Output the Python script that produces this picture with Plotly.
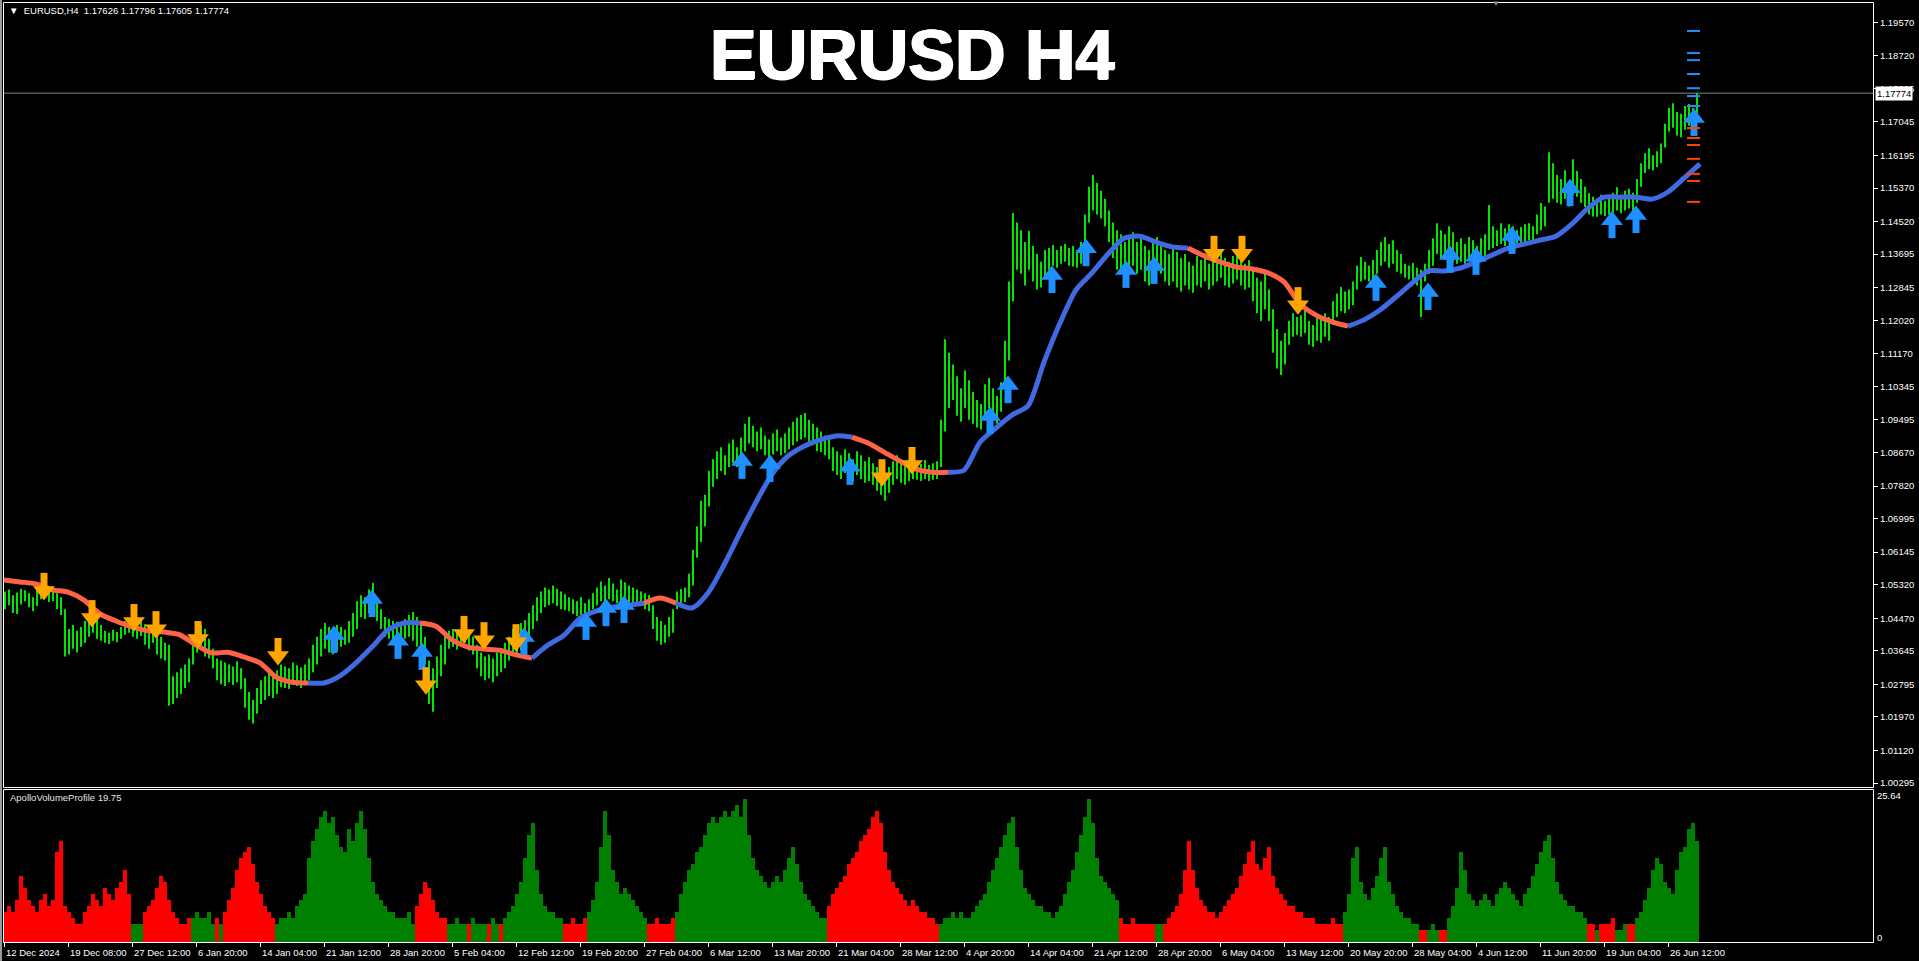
import plotly.graph_objects as go

W, H = 1919, 961

# ---------------- DATA ----------------
# price bars (each entry = 2 consecutive H4 bars): highs / lows
bar_hi = [
1.0515,1.0520,1.0505,1.0512,1.0522,1.0518,1.0510,1.0500,1.0520,1.0528,1.0531,1.0515,1.0522,1.0510,1.0500,
1.0470,1.0420,1.0430,1.0415,1.0425,1.0440,
1.0450,1.0462,1.0445,1.0430,
1.0415,1.0410,1.0418,1.0412,1.0425,
1.0440,1.0445,1.0438,1.0430,1.0440,
1.0432,1.0420,1.0430,1.0415,1.0400,1.0385,
1.0380,1.0300,1.0310,1.0320,1.0330,1.0345,
1.0400,1.0437,1.0430,1.0420,
1.0395,1.0370,
1.0345,1.0340,1.0335,1.0330,1.0325,1.0338,1.0320,
1.0295,1.0260,1.0240,
1.0270,1.0290,1.0300,1.0310,1.0305,1.0315,
1.0330,1.0325,1.0320,1.0335,1.0328,1.0322,1.0330,1.0345,
1.0380,1.0400,1.0420,1.0435,1.0425,1.0415,1.0430,
1.0425,1.0418,1.0440,1.0460,
1.0490,1.0505,1.0500,1.0520,1.0536,1.0500,
1.0470,1.0450,1.0445,1.0440,1.0438,1.0432,1.0445,1.0455,
1.0463,1.0450,1.0430,1.0400,
1.0340,1.0320,
1.0350,1.0380,1.0410,
1.0415,1.0420,1.0410,1.0418,1.0425,1.0410,1.0400,
1.0380,1.0360,1.0350,1.0355,1.0345,1.0360,1.0370,1.0385,
1.0400,1.0420,1.0410,1.0435,1.0442,1.0460,
1.0480,1.0500,1.0515,1.0525,1.0520,1.0530,1.0522,1.0515,1.0508,1.0500,1.0495,
1.0490,1.0500,1.0485,1.0495,
1.0510,1.0525,1.0540,1.0530,1.0549,1.0535,1.0520,1.0545,1.0538,1.0530,1.0525,1.0520,1.0515,1.0510,1.0505,
1.0480,1.0450,1.0440,1.0430,1.0450,1.0470,
1.0515,1.0521,1.0525,
1.0560,1.0620,1.0680,1.0745,1.0760,
1.0820,1.0850,1.0870,1.0880,1.0860,1.0890,1.0900,1.0880,
1.0905,1.0940,1.0957,1.0935,1.0920,1.0930,1.0910,1.0900,1.0915,1.0925,1.0905,
1.0915,1.0930,1.0945,1.0955,1.0962,1.0967,1.0950,1.0940,1.0930,1.0920,1.0910,1.0900,
1.0880,1.0870,1.0860,1.0875,1.0865,1.0850,1.0870,1.0860,1.0845,1.0855,1.0840,1.0830,1.0820,1.0815,1.0830,1.0845,1.0860,1.0850,1.0840,
1.0845,1.0850,1.0842,1.0838,1.0848,1.0835,1.0840,1.0845,
1.0950,1.1154,1.1120,
1.1090,1.1060,1.1030,1.1075,1.1050,1.1020,
1.1000,1.0990,1.1040,1.1056,1.1030,1.1010,1.1045,
1.1150,1.1300,1.1474,1.1450,
1.1430,1.1400,1.1428,1.1390,1.1370,1.1350,1.1380,
1.1385,1.1393,1.1380,1.1390,1.1395,1.1385,1.1390,1.1380,1.1400,
1.1470,1.1540,1.1570,1.1550,1.1530,1.1510,
1.1480,1.1450,1.1430,1.1420,1.1400,1.1410,1.1425,1.1400,
1.1410,1.1390,1.1380,1.1400,1.1413,1.1395,1.1380,1.1370,1.1385,1.1375,
1.1360,1.1370,1.1350,1.1340,1.1365,1.1355,1.1372,1.1345,1.1360,1.1370,
1.1380,1.1360,1.1350,1.1365,1.1375,1.1360,1.1345,1.1355,1.1330,1.1310,
1.1300,1.1320,1.1280,1.1230,1.1180,1.1150,1.1170,1.1200,1.1220,1.1210,
1.1215,1.1228,1.1200,1.1190,1.1215,1.1205,1.1220,1.1210,1.1250,1.1270,
1.1286,1.1275,1.1280,1.1300,1.1340,1.1362,1.1350,1.1340,1.1355,1.1380,
1.1400,1.1413,1.1395,1.1405,1.1380,1.1370,1.1345,1.1340,1.1347,1.1335,
1.1330,1.1345,1.1380,1.1410,1.1448,1.1430,1.1420,1.1440,1.1425,1.1400,
1.1410,1.1395,1.1413,1.1405,1.1390,1.1410,1.1420,1.1494,1.1440,1.1430,
1.1448,1.1435,1.1445,1.1440,1.1430,1.1438,1.1445,1.1448,1.1440,1.1470,
1.1499,1.1490,1.1628,1.1600,1.1570,1.1560,1.1582,1.1550,1.1610,1.1580,
1.1560,1.1540,1.1524,1.1515,1.1510,1.1520,1.1505,1.1515,1.1525,1.1539,
1.1520,1.1530,1.1535,1.1525,1.1560,1.1600,1.1625,1.1638,1.1620,1.1630,
1.1650,1.1700,1.1740,1.1752,1.1730,1.1725,1.1745,1.1750,1.1740,1.1778,
]
bar_lo = [
1.0470,1.0480,1.0460,1.0458,1.0482,1.0490,1.0475,1.0465,1.0478,1.0495,1.0500,1.0488,1.0490,1.0470,1.0455,
1.0350,1.0355,1.0370,1.0360,1.0375,1.0385,
1.0400,1.0410,1.0395,1.0390,
1.0385,1.0382,1.0390,1.0386,1.0395,
1.0405,1.0410,1.0400,1.0395,1.0402,
1.0380,1.0370,1.0385,1.0355,1.0345,1.0340,
1.0225,1.0230,1.0245,1.0255,1.0270,1.0285,
1.0330,1.0360,1.0370,1.0350,
1.0345,1.0320,
1.0290,1.0280,1.0275,1.0285,1.0278,1.0285,1.0268,
1.0220,1.0190,1.0180,
1.0205,1.0230,1.0240,1.0250,1.0245,1.0255,
1.0272,1.0270,1.0268,1.0280,1.0275,1.0270,1.0280,1.0290,
1.0310,1.0330,1.0350,1.0370,1.0360,1.0355,1.0365,
1.0375,1.0380,1.0385,1.0400,
1.0420,1.0450,1.0445,1.0460,1.0470,1.0440,
1.0420,1.0400,1.0395,1.0390,1.0385,1.0386,1.0395,1.0400,
1.0390,1.0375,1.0370,1.0330,
1.0230,1.0210,
1.0270,1.0300,1.0330,
1.0370,1.0375,1.0368,1.0380,1.0385,1.0365,1.0355,
1.0320,1.0300,1.0290,1.0295,1.0285,1.0300,1.0310,1.0320,
1.0340,1.0360,1.0350,1.0365,1.0380,1.0395,
1.0420,1.0440,1.0460,1.0475,1.0480,1.0485,1.0478,1.0470,1.0468,1.0465,1.0458,
1.0452,1.0455,1.0450,1.0460,
1.0470,1.0480,1.0490,1.0485,1.0495,1.0490,1.0485,1.0492,1.0490,1.0488,1.0485,1.0480,1.0478,1.0470,1.0465,
1.0420,1.0390,1.0380,1.0385,1.0400,1.0410,
1.0470,1.0485,1.0488,
1.0500,1.0530,1.0600,1.0640,1.0680,
1.0730,1.0780,1.0800,1.0820,1.0810,1.0830,1.0840,1.0830,
1.0850,1.0870,1.0890,1.0880,1.0870,1.0875,1.0860,1.0855,1.0862,1.0870,1.0860,
1.0865,1.0875,1.0885,1.0895,1.0900,1.0905,1.0895,1.0885,1.0870,1.0868,1.0860,1.0850,
1.0820,1.0810,1.0800,1.0815,1.0805,1.0795,1.0810,1.0800,1.0790,1.0795,1.0785,1.0770,1.0760,1.0745,1.0765,1.0785,1.0800,1.0790,1.0785,
1.0795,1.0800,1.0798,1.0795,1.0800,1.0795,1.0798,1.0800,
1.0830,1.0920,1.0980,
1.1000,1.0960,1.0945,1.0980,1.0950,1.0940,
1.0930,1.0925,1.0950,1.0980,1.0960,1.0940,1.0970,
1.1050,1.1100,1.1250,1.1330,
1.1320,1.1290,1.1330,1.1300,1.1280,1.1285,1.1310,
1.1330,1.1340,1.1335,1.1345,1.1350,1.1340,1.1338,1.1335,1.1345,
1.1380,1.1450,1.1480,1.1470,1.1460,1.1440,
1.1400,1.1360,1.1330,1.1320,1.1315,1.1330,1.1340,1.1320,
1.1330,1.1300,1.1290,1.1310,1.1330,1.1320,1.1300,1.1290,1.1300,1.1285,
1.1275,1.1290,1.1280,1.1272,1.1290,1.1285,1.1300,1.1280,1.1290,1.1300,
1.1310,1.1290,1.1285,1.1295,1.1305,1.1290,1.1280,1.1285,1.1250,1.1220,
1.1200,1.1230,1.1200,1.1120,1.1080,1.1063,1.1090,1.1140,1.1160,1.1165,
1.1160,1.1170,1.1140,1.1135,1.1150,1.1145,1.1160,1.1150,1.1190,1.1210,
1.1225,1.1220,1.1230,1.1240,1.1280,1.1300,1.1305,1.1300,1.1305,1.1320,
1.1340,1.1350,1.1335,1.1345,1.1325,1.1320,1.1310,1.1305,1.1300,1.1290,
1.1210,1.1300,1.1320,1.1340,1.1370,1.1360,1.1355,1.1365,1.1350,1.1345,
1.1350,1.1345,1.1355,1.1350,1.1347,1.1355,1.1360,1.1380,1.1385,1.1390,
1.1395,1.1390,1.1400,1.1392,1.1388,1.1395,1.1400,1.1405,1.1400,1.1420,
1.1430,1.1440,1.1500,1.1510,1.1500,1.1495,1.1510,1.1490,1.1520,1.1515,
1.1500,1.1489,1.1470,1.1465,1.1464,1.1470,1.1466,1.1470,1.1475,1.1480,
1.1473,1.1480,1.1485,1.1478,1.1500,1.1540,1.1575,1.1585,1.1582,1.1590,
1.1600,1.1640,1.1680,1.1690,1.1670,1.1666,1.1685,1.1695,1.1700,1.1727,
]

# trend moving average, one value every 8 bars
ma_vals = [
1.0544,1.0539,1.0534,1.0519,1.0513,1.0493,1.0458,1.0440,1.0425,1.0415,
1.0412,1.0405,1.0379,1.0359,1.0361,1.0349,1.0334,1.0298,1.0285,1.0283,
1.0283,1.0301,1.0334,1.0374,1.0417,1.0435,1.0435,1.0427,1.0392,1.0374,
1.0369,1.0366,1.0354,1.0346,1.0379,1.0404,1.0447,1.0465,1.0475,1.0480,
1.0485,1.0498,1.0485,1.0473,1.0511,1.0582,1.0663,1.0741,1.0812,1.0858,
1.0883,1.0899,1.0909,1.0906,1.0891,1.0868,1.0845,1.0825,1.0817,1.0817,
1.0822,1.0893,1.0929,1.0962,1.0985,1.1096,1.1195,1.1279,1.1322,1.1370,
1.1410,1.1415,1.1400,1.1388,1.1385,1.1365,1.1350,1.1337,1.1332,1.1322,
1.1299,1.1243,1.1215,1.1198,1.1187,1.1203,1.1228,1.1261,1.1296,1.1327,
1.1327,1.1334,1.1350,1.1367,1.1385,1.1395,1.1405,1.1415,1.1446,1.1486,
1.1514,1.1514,1.1514,1.1509,1.1527,1.1562,1.1598,
]
ma_run_len = [19, 7, 7, 7, 2, 11, 6, 15, 10, 23]
ma_run_dir = ["down", "up", "down", "up", "down", "up", "down", "up", "down", "up"]

# signal arrows (bar index, price)
up_bar = [165, 184, 197, 209, 260, 291, 301, 310, 369, 383, 423, 493, 502, 524, 541,
          561, 575, 686, 712, 723, 736, 754, 783, 804, 816, 845]
up_price = [1.0392, 1.0483, 1.0377, 1.0349, 1.0387, 1.0425, 1.0460, 1.0468, 1.0833, 1.0825,
            1.0818, 1.0947, 1.1025, 1.1304, 1.1372, 1.1317, 1.1327, 1.1284, 1.1261, 1.1355,
            1.1350, 1.1403, 1.1524, 1.1443, 1.1456, 1.1702]
down_bar = [20, 44, 65, 76, 97, 137, 211, 230, 240, 256, 439, 454, 605, 619, 647]
down_price = [1.0529, 1.0460, 1.0450, 1.0432, 1.0407, 1.0364, 1.0290, 1.0420, 1.0404,
              1.0399, 1.0817, 1.0848, 1.1383, 1.1383, 1.1253]

# level dashes at the right edge
level_up = [1.1935, 1.1879, 1.1861, 1.1826, 1.1790, 1.1770, 1.1745]
level_dn = [1.1689, 1.1664, 1.1646, 1.1611, 1.1573, 1.1555, 1.1502]
level_bars = [841.5, 848]

# volume profile histogram (each entry = 2 bars)
vol_vals = [
5,6,5,7,11,9,7,6,5,7, 8,6,7,15,17,6,5,4,3,3, 5,6,8,7,6,9,8,7,9,10,
12,8,3,3,3,5,6,7,9,11, 10,7,5,4,3,3,4,4,5,4, 4,5,3,4,3,5,7,9,12,14,
15,16,13,10,8,6,5,4,3,4, 4,5,4,6,7,8,14,17,19,21, 22,20,21,18,16,15,19,17,20,22,
19,14,10,8,7,6,5,5,4,4, 4,5,3,6,8,10,9,7,5,4, 4,3,3,4,3,3,3,4,3,3,
3,3,4,3,3,4,5,6,8,10, 14,18,20,12,8,6,5,5,4,4, 3,3,4,3,3,4,5,7,10,16,
22,18,12,10,8,9,8,7,6,5, 4,3,3,4,3,3,3,4,5,8, 10,12,13,15,16,18,20,21,20,21,
22,21,22,23,21,24,18,14,12,11, 10,9,10,11,10,12,14,16,13,10, 8,7,6,5,4,4,6,8,9,10,
11,13,14,15,17,18,19,21,22,20, 15,12,10,9,8,7,6,7,6,5, 5,4,4,3,3,4,4,5,4,5,
4,4,5,6,7,8,10,12,14,16, 18,20,21,16,12,9,8,7,6,6, 5,5,4,5,6,8,10,12,15,18,
21,24,20,14,11,10,9,8,7,4, 3,3,4,3,3,3,3,3,3,3, 3,4,5,6,8,12,17,12,9,7,
6,5,5,4,5,6,7,8,9,11, 13,15,17,13,12,14,16,11,9,8, 7,6,6,5,5,4,4,4,3,3,
3,3,4,3,3,5,8,14,16,10, 8,7,9,11,14,16,10,8,6,5, 4,4,3,3,2,2,2,3,2,2,
2,4,6,9,15,12,8,7,6,7, 8,7,6,8,9,10,9,8,7,6, 8,9,11,13,15,17,18,14,10,8,
7,6,6,5,5,4,3,3,2,3, 3,3,4,2,2,3,3,3,4,5, 7,9,12,14,13,10,9,8,12,15,
16,19,20,17,
]
vol_run_len = [32, 3, 12, 6, 1, 1, 13, 35, 8, 5, 1, 4, 1, 2, 1, 15, 6, 15, 7, 38, 28, 45,
               9, 2, 45, 19, 2, 3, 2, 35, 2, 1, 4, 3, 2, 16]
vol_run_col = ["r", "g", "r", "g", "r", "g", "r", "g", "r", "g", "r", "g", "r", "g", "r", "g",
               "r", "g", "r", "g", "r", "g", "r", "g", "r", "g", "r", "g", "r", "g", "r", "g",
               "r", "g", "r", "g"]

price_ticks = [1.19570, 1.18720, 1.17895, 1.17045, 1.16195, 1.15370, 1.14520, 1.13695,
               1.12845, 1.12020, 1.11170, 1.10345, 1.09495, 1.08670, 1.07820, 1.06995,
               1.06145, 1.05320, 1.04470, 1.03645, 1.02795, 1.01970, 1.01120, 1.00295]
tick_bars = [0, 32, 64, 96, 128, 160, 192, 224, 256, 288, 320, 352, 384, 416, 448, 480,
             512, 544, 576, 608, 640, 672, 704, 736, 768, 800, 832]
tick_labels = ["12 Dec 2024", "19 Dec 08:00", "27 Dec 12:00", "6 Jan 20:00", "14 Jan 04:00",
               "21 Jan 12:00", "28 Jan 20:00", "5 Feb 04:00", "12 Feb 12:00", "19 Feb 20:00",
               "27 Feb 04:00", "6 Mar 12:00", "13 Mar 20:00", "21 Mar 04:00", "28 Mar 12:00",
               "4 Apr 20:00", "14 Apr 04:00", "21 Apr 12:00", "28 Apr 20:00", "6 May 04:00",
               "13 May 12:00", "20 May 20:00", "28 May 04:00", "4 Jun 12:00", "11 Jun 20:00",
               "19 Jun 04:00", "26 Jun 12:00"]
ohlc_last = [1.17626, 1.17796, 1.17605, 1.17774]
vol_indicator_value = 19.75
vol_max = 25.64

# ---------------- LAYOUT (pixels of the terminal window) ----------------
LEFT, RIGHT = 3, 1873
MAIN_TOP, MAIN_BOT = 2, 787
SUB_TOP, SUB_BOT = 789, 942
FONT = "Liberation Sans"


def fx(px):
    return px / W


def fy(py):
    return 1 - py / H


x_range = [-0.5, -0.5 + (RIGHT - LEFT) / 2]
y_range = [1.00194, 1.20084]
dp = (y_range[1] - y_range[0]) / (MAIN_BOT - MAIN_TOP)  # price per pixel

fig = go.Figure()

# green price bars
gx = [2 * g + 0.5 for g in range(len(bar_hi))]
bx, by = [], []
for x, lo, hi in zip(gx, bar_lo, bar_hi):
    bx += [x, x, None]
    by += [lo, hi, None]
fig.add_trace(go.Scatter(x=bx, y=by, mode="lines", line=dict(color="#00e600", width=2),
                         hoverinfo="skip", xaxis="x", yaxis="y"))

# moving average, coloured by trend
ma_x = [8 * k for k in range(len(ma_vals))]
start = 0
for n, d in zip(ma_run_len, ma_run_dir):
    end = min(start + n, len(ma_vals) - 1)
    fig.add_trace(go.Scatter(
        x=ma_x[start:end + 1], y=ma_vals[start:end + 1], mode="lines",
        line=dict(color="#4169E1" if d == "up" else "#FF6347", width=5,
                  shape="spline", smoothing=0.7),
        hoverinfo="skip", xaxis="x", yaxis="y"))
    start += n


def add_arrows(bars, prices, color, up):
    s = 1 if up else -1
    sx, sy = [], []
    for b, p in zip(bars, prices):
        sx += [b, b, None]
        sy += [p - s * 13 * dp, p + s * 1 * dp, None]
    fig.add_trace(go.Scatter(x=sx, y=sy, mode="lines", line=dict(color=color, width=7),
                             hoverinfo="skip", xaxis="x", yaxis="y"))
    fig.add_trace(go.Scatter(
        x=bars, y=[p + s * 5 * dp for p in prices], mode="markers",
        marker=dict(symbol="triangle-up" if up else "triangle-down", size=19, color=color,
                    line=dict(width=0)),
        hoverinfo="skip", xaxis="x", yaxis="y"))


add_arrows(up_bar, up_price, "#1E90FF", True)
add_arrows(down_bar, down_price, "#FFA500", False)

# level dashes
for levels, col in ((level_up, "#1E90FF"), (level_dn, "#FF4500")):
    lx, ly = [], []
    for lv in levels:
        lx += [level_bars[0], level_bars[1], None]
        ly += [lv, lv, None]
    fig.add_trace(go.Scatter(x=lx, y=ly, mode="lines", line=dict(color=col, width=2),
                             hoverinfo="skip", xaxis="x", yaxis="y"))

# volume histogram
vol_colors = []
for n, c in zip(vol_run_len, vol_run_col):
    vol_colors += ["#ff0000" if c == "r" else "#008000"] * n
fig.add_trace(go.Bar(x=gx, y=vol_vals, width=2,
                     marker=dict(color=vol_colors, line=dict(width=0)),
                     hoverinfo="skip", xaxis="x2", yaxis="y2"))

tickfont = dict(family=FONT, size=9.5, color="white")

fig.update_layout(
    width=W, height=H, margin=dict(l=0, r=0, t=0, b=0),
    paper_bgcolor="black", plot_bgcolor="black", showlegend=False, bargap=0,
    xaxis=dict(domain=[fx(LEFT), fx(RIGHT)], range=x_range, anchor="y",
               showticklabels=False, ticks="", showgrid=False, zeroline=False, showline=False),
    xaxis2=dict(domain=[fx(LEFT), fx(RIGHT)], range=x_range, anchor="y2", matches="x",
                tickmode="array", tickvals=tick_bars, ticks="outside", ticklen=4,
                tickcolor="white", showticklabels=False, showgrid=False, zeroline=False,
                showline=False),
    yaxis=dict(domain=[fy(MAIN_BOT), fy(MAIN_TOP)], range=y_range, anchor="x", side="right",
               tickmode="array", tickvals=price_ticks,
               ticktext=[f"{v:.5f}" for v in price_ticks],
               ticks="outside", ticklen=4, tickcolor="white", tickfont=tickfont,
               showgrid=False, zeroline=False, showline=False),
    yaxis2=dict(domain=[fy(SUB_BOT), fy(SUB_TOP)], range=[0, vol_max], anchor="x2",
                showticklabels=False, ticks="", showgrid=False, zeroline=False, showline=False),
)

shapes = [
    # window edge
    dict(type="rect", xref="paper", yref="paper", x0=0, x1=fx(2), y0=0, y1=1,
         fillcolor="#9a9a9a", line=dict(width=0), layer="below"),
    # current price line
    dict(type="line", xref="paper", yref="y", x0=fx(LEFT), x1=fx(RIGHT),
         y0=ohlc_last[3], y1=ohlc_last[3], line=dict(color="#778899", width=1), layer="below"),
    # frames
    dict(type="rect", xref="paper", yref="paper", x0=fx(LEFT + 0.5), x1=fx(RIGHT + 0.5),
         y0=fy(MAIN_BOT + 0.5), y1=fy(MAIN_TOP + 0.5), line=dict(color="white", width=1)),
    dict(type="rect", xref="paper", yref="paper", x0=fx(LEFT + 0.5), x1=fx(RIGHT + 0.5),
         y0=fy(SUB_BOT + 0.5), y1=fy(SUB_TOP + 0.5), line=dict(color="white", width=1)),
]
fig.update_layout(shapes=shapes)

ann = [
    dict(text="<b>EURUSD H4</b>", x=fx(912), y=fy(55), xref="paper", yref="paper",
         xanchor="center", yanchor="middle", showarrow=False,
         font=dict(family=FONT, size=70, color="white",
                   shadow="1px 0px 0px #ffffff, -1px 0px 0px #ffffff, 0px 1px 0px #ffffff")),
    dict(text="\u25bc\u00a0 EURUSD,H4\u00a0\u00a0" + " ".join(f"{v:.5f}" for v in ohlc_last),
         x=fx(7), y=fy(10), xref="paper", yref="paper", xanchor="left", yanchor="middle",
         showarrow=False, font=dict(family=FONT, size=9.5, color="white")),
    dict(text="\u25bc", x=fx(1496), y=fy(4), xref="paper", yref="paper", xanchor="center",
         yanchor="middle", showarrow=False, font=dict(family=FONT, size=8, color="#8a8a9a")),
    dict(text=f"ApolloVolumeProfile {vol_indicator_value:.2f}", x=fx(8), y=fy(797),
         xref="paper", yref="paper", xanchor="left", yanchor="middle", showarrow=False,
         font=dict(family=FONT, size=9.5, color="#e6e6e6")),
    dict(text=f"{vol_max:.2f}", x=fx(1875), y=fy(795), xref="paper", yref="paper",
         xanchor="left", yanchor="middle", showarrow=False, font=tickfont),
    dict(text="0", x=fx(1875), y=fy(937), xref="paper", yref="paper",
         xanchor="left", yanchor="middle", showarrow=False, font=tickfont),
    dict(text=f"{ohlc_last[3]:.5f}", x=fx(1875), y=ohlc_last[3], xref="paper", yref="y",
         xanchor="left", yanchor="middle", showarrow=False, bgcolor="white", borderpad=1,
         font=dict(family=FONT, size=9.5, color="black")),
]
for b, lab in zip(tick_bars, tick_labels):
    ann.append(dict(text=lab, x=b, y=fy(952), xref="x2", yref="paper", xanchor="left",
                    yanchor="middle", showarrow=False, font=tickfont))
fig.update_layout(annotations=ann)

fig.write_html(
    "out.html",
    config={"displayModeBar": False},
    post_script="document.body.style.margin='0';document.body.style.background='black';"
                "document.body.style.overflow='hidden';",
)
